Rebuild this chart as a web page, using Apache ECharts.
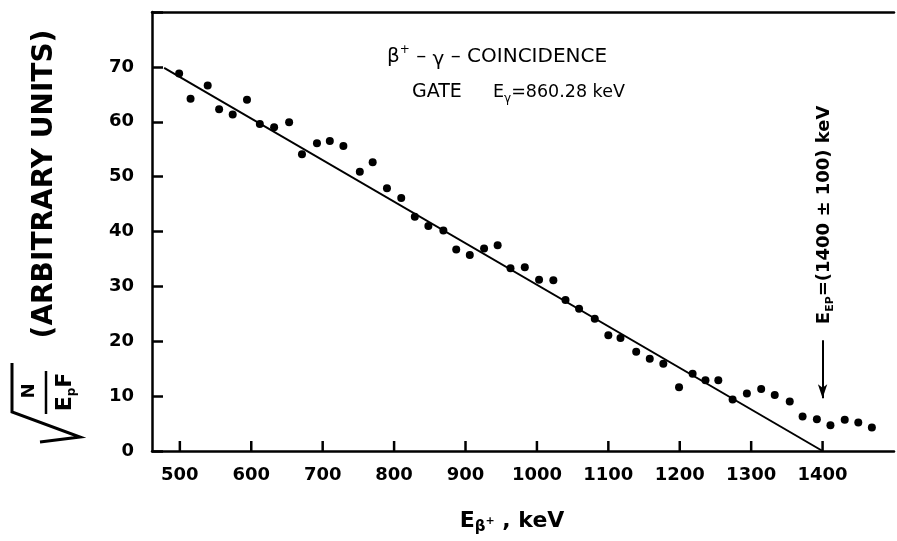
<!DOCTYPE html>
<html><head><meta charset="utf-8">
<script src="https://cdn.jsdelivr.net/npm/echarts@6/dist/echarts.min.js"></script>
<style>html,body{margin:0;padding:0;background:#fff}#c{width:897px;height:541px}</style>
</head><body><div id="c"></div>
<script>
// ---- data ----
const energyKeV = [499, 515, 539, 555, 574, 594, 612, 632, 653, 671, 692, 710, 729, 752, 770, 790, 810, 829, 848, 869,
  887, 906, 926, 945, 963, 983, 1003, 1023, 1040, 1059, 1081, 1100, 1117, 1139, 1158, 1177, 1199, 1218, 1236, 1254,
  1274, 1294, 1314, 1333, 1354, 1372, 1392, 1411, 1431, 1450, 1469];
const sqrtNorm = [68.8, 64.2, 66.6, 62.3, 61.3, 64.0, 59.6, 59.0, 59.9, 54.1, 56.1, 56.5, 55.6, 50.9, 52.6, 47.9, 46.1, 42.7, 41.0, 40.2,
  36.7, 35.7, 36.9, 37.5, 33.3, 33.5, 31.2, 31.1, 27.5, 25.9, 24.1, 21.1, 20.6, 18.1, 16.8, 15.9, 11.6, 14.1, 12.9, 12.9,
  9.4, 10.5, 11.3, 10.2, 9.0, 6.3, 5.8, 4.7, 5.7, 5.2, 4.3];
const fitLineX = [478, 1400];
const fitLineY = [69.8, 0];
const xTickLabels = [500, 600, 700, 800, 900, 1000, 1100, 1200, 1300, 1400];
const yTickLabels = [0, 10, 20, 30, 40, 50, 60, 70];
const arrowX = 1400, arrowFrom = 20.2, arrowTo = 9.6;

const F = 'DejaVu Sans';
const chart = echarts.init(document.getElementById('c'));
const black = '#000';
chart.setOption({
  animation: false,
  backgroundColor: '#fff',
  grid: { left: 152, right: 3, top: 12, bottom: 90 },
  xAxis: [{
    type: 'value', min: 461, max: 1500,
    axisLine: { show: true, onZero: false, lineStyle: { color: black, width: 2.5 } },
    axisTick: { show: false },
    axisLabel: { customValues: xTickLabels, color: black, fontFamily: F, fontSize: 18, fontWeight: 'bold', margin: 15,
      formatter: v => String(v) },
    splitLine: { show: false }
  }, {
    type: 'value', position: 'top', min: 461, max: 1500,
    axisLine: { show: true, onZero: false, lineStyle: { color: black, width: 2.5 } },
    axisTick: { show: false }, axisLabel: { show: false }, splitLine: { show: false }
  }],
  yAxis: {
    type: 'value', min: 0, max: 80, interval: 10,
    axisLine: { show: true, onZero: false, lineStyle: { color: black, width: 2.5 } },
    axisTick: { show: true, inside: true, length: 11, lineStyle: { color: black, width: 2.5 } },
    axisLabel: { color: black, fontFamily: F, fontSize: 18, fontWeight: 'bold', margin: 18,
      formatter: v => yTickLabels.includes(v) ? String(v) : '' },
    splitLine: { show: false }
  },
  series: [{
    // x-axis tick marks placed on the axis scale
    type: 'scatter', silent: true, clip: false, symbol: 'rect', symbolSize: [2.5, 10], symbolOffset: [0, -5],
    itemStyle: { color: black, opacity: 1 },
    data: xTickLabels.map(v => [v, 0]), z: 1
  }, {
    type: 'line', silent: true, symbol: 'none',
    data: fitLineX.map((x, i) => [x, fitLineY[i]]),
    lineStyle: { color: black, width: 2 }
  }, {
    type: 'scatter', symbolSize: 8, itemStyle: { color: black, opacity: 1 },
    data: energyKeV.map((e, i) => [e, sqrtNorm[i]]),
    markLine: {
      silent: true, symbol: ['none', 'arrow'], symbolSize: [7, 14],
      lineStyle: { color: black, width: 2, type: 'solid' }, label: { show: false },
      data: [[{ coord: [arrowX, arrowFrom] }, { coord: [arrowX, arrowTo] }]]
    }
  }]
});

const arrowTop = chart.convertToPixel({ gridIndex: 0 }, [arrowX, arrowFrom]);
chart.setOption({
  graphic: [
    // y axis name
    { type: 'text', x: 45, y: 184, rotation: Math.PI / 2,
      style: { text: '(ARBITRARY UNITS)', font: 'bold 28px "DejaVu Sans"', fill: black, align: 'center', verticalAlign: 'middle' } },
    { type: 'polyline', shape: { points: [[40, 442], [80, 437], [12, 412], [12, 363]] },
      style: { stroke: black, lineWidth: 3, fill: null } },
    { type: 'text', x: 29, y: 391, rotation: Math.PI / 2,
      style: { text: 'N', font: 'bold 18px "DejaVu Sans"', fill: black, align: 'center', verticalAlign: 'middle' } },
    { type: 'line', shape: { x1: 46, y1: 371, x2: 46, y2: 414 }, style: { stroke: black, lineWidth: 2.5 } },
    { type: 'text', x: 65, y: 392, rotation: Math.PI / 2,
      style: { text: '{e|E}{p|p}{e|F}', fill: black, align: 'center', verticalAlign: 'middle',
        rich: { e: { fontFamily: F, fontWeight: 'bold', fontSize: 22, lineHeight: 26 },
                p: { fontFamily: F, fontWeight: 'bold', fontSize: 12, lineHeight: 12, verticalAlign: 'bottom' } } } },
    // title lines
    { type: 'text', x: 387, y: 57,
      style: { text: '{t|β}{s|+}{t| – }{g|γ}{t| – COINCIDENCE}', fill: black, align: 'left', verticalAlign: 'middle',
        rich: { t: { fontFamily: F, fontSize: 20, lineHeight: 26 },
                s: { fontFamily: F, fontSize: 12, lineHeight: 12, verticalAlign: 'top' },
                g: { fontFamily: F, fontSize: 20, lineHeight: 20, verticalAlign: 'bottom' } } } },
    { type: 'text', x: 412, y: 92,
      style: { text: 'GATE', font: '19px "DejaVu Sans"', fill: black, align: 'left', verticalAlign: 'middle' } },
    { type: 'text', x: 493, y: 92,
      style: { text: '{t|E}{g|γ}{t|=860.28 keV}', fill: black, align: 'left', verticalAlign: 'middle',
        rich: { t: { fontFamily: F, fontSize: 17.5, lineHeight: 26 },
                g: { fontFamily: F, fontSize: 12, lineHeight: 12, verticalAlign: 'bottom' } } } },
    // arrow annotation
    { type: 'text', x: arrowTop[0] + 2, y: arrowTop[1] - 16, rotation: Math.PI / 2,
      style: { text: '{t|E}{s|EP}{t|=(1400 ± 100) keV}', fill: black, align: 'left', verticalAlign: 'middle',
        rich: { t: { fontFamily: F, fontWeight: 'bold', fontSize: 18, lineHeight: 22 },
                s: { fontFamily: F, fontWeight: 'bold', fontSize: 11, lineHeight: 11, verticalAlign: 'bottom' } } } },
    // x axis name
    { type: 'text', x: 512, y: 521,
      style: { text: '{t|E}{s|β}{p|+}{t| , keV}', fill: black, align: 'center', verticalAlign: 'middle',
        rich: { t: { fontFamily: F, fontWeight: 'bold', fontSize: 22, lineHeight: 28 },
                s: { fontFamily: F, fontWeight: 'bold', fontSize: 15, lineHeight: 15, verticalAlign: 'bottom' },
                p: { fontFamily: F, fontWeight: 'bold', fontSize: 11, lineHeight: 11, verticalAlign: 'middle' } } } }
  ]
});
</script>
</body></html>
